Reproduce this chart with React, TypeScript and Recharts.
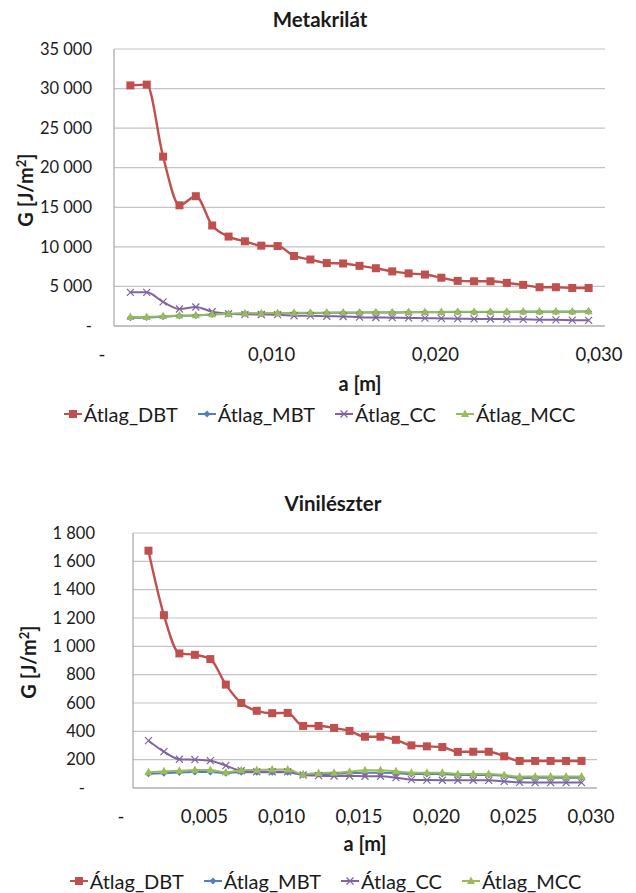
import React from "react";
import { LineChart, Line, XAxis, YAxis, CartesianGrid, Legend } from "recharts";

// a [m] positions of the measurements
const aValues = [
  0.001, 0.002, 0.003, 0.004, 0.005, 0.006, 0.007, 0.008, 0.009, 0.01,
  0.011, 0.012, 0.013, 0.014, 0.015, 0.016, 0.017, 0.018, 0.019, 0.02,
  0.021, 0.022, 0.023, 0.024, 0.025, 0.026, 0.027, 0.028, 0.029,
];

// Metakrilát, G [J/m2]
const metaDBT = [
  30400, 30500, 21400, 15250, 16400, 12700, 11300, 10700, 10150, 10100,
  8850, 8400, 7950, 7900, 7600, 7300, 6900, 6650, 6500, 6100,
  5700, 5650, 5650, 5450, 5200, 4900, 4900, 4800, 4800,
];
const metaMBT = [
  1050, 1080, 1180, 1280, 1320, 1450, 1520, 1570, 1590, 1610,
  1630, 1650, 1660, 1670, 1690, 1700, 1710, 1730, 1740, 1750,
  1760, 1770, 1770, 1780, 1790, 1800, 1800, 1810, 1830,
];
const metaCC = [
  4250, 4250, 3050, 2150, 2400, 1800, 1550, 1470, 1450, 1430,
  1300, 1280, 1230, 1200, 1120, 1080, 1050, 1020, 990, 960,
  930, 900, 880, 860, 840, 800, 780, 740, 720,
];
const metaMCC = [
  1150, 1150, 1250, 1330, 1350, 1480, 1560, 1600, 1620, 1640,
  1660, 1680, 1690, 1700, 1720, 1730, 1740, 1760, 1770, 1780,
  1790, 1800, 1800, 1810, 1820, 1830, 1830, 1840, 1850,
];

// Vinilészter, G [J/m2]
const vinDBT = [
  1675, 1220, 950, 940, 910, 730, 600, 545, 528, 530,
  438, 438, 424, 403, 362, 362, 340, 301, 294, 289,
  255, 256, 256, 224, 191, 191, 191, 191, 191,
];
const vinMBT = [
  100, 105, 110, 113, 113, 105, 112, 112, 112, 111,
  94, 98, 100, 105, 108, 108, 105, 98, 98, 98,
  92, 92, 92, 85, 70, 72, 72, 72, 72,
];
const vinCC = [
  334, 257, 203, 200, 193, 158, 122, 115, 115, 115,
  92, 87, 85, 85, 83, 83, 73, 59, 56, 55,
  55, 55, 54, 47, 40, 38, 38, 38, 38,
];
const vinMCC = [
  111, 118, 122, 127, 127, 111, 125, 127, 130, 130,
  97, 106, 108, 115, 125, 125, 118, 108, 108, 108,
  99, 99, 99, 92, 80, 82, 82, 82, 82,
];

const metaYTicks = [0, 5000, 10000, 15000, 20000, 25000, 30000, 35000];
const metaXTicks = [0, 0.01, 0.02, 0.03];
const vinYTicks = [0, 200, 400, 600, 800, 1000, 1200, 1400, 1600, 1800];
const vinXTicks = [0, 0.005, 0.01, 0.015, 0.02, 0.025, 0.03];

const seriesNames = ["Átlag_DBT", "Átlag_MBT", "Átlag_CC", "Átlag_MCC"];

const FONT = "Lato, 'Open Sans', sans-serif";

const series = [
  { key: "dbt", name: seriesNames[0], color: "#c0504d", marker: "square" },
  { key: "mbt", name: seriesNames[1], color: "#4f81bd", marker: "diamond" },
  { key: "cc", name: seriesNames[2], color: "#8064a2", marker: "cross" },
  { key: "mcc", name: seriesNames[3], color: "#9bbb59", marker: "triangle" },
];
const markerOf: Record<string, string> = Object.fromEntries(
  series.map((s) => [s.key, s.marker])
);
const orderOf: Record<string, number> = Object.fromEntries(
  series.map((s, i) => [s.key, i])
);

function buildRows(dbt: number[], mbt: number[], cc: number[], mcc: number[]) {
  return aValues.map((a, i) => ({ a, dbt: dbt[i], mbt: mbt[i], cc: cc[i], mcc: mcc[i] }));
}

const fmtY = (v: number) =>
  v === 0 ? "-" : String(v).replace(/\B(?=(\d{3})+(?!\d))/g, " ");
const fmtX = (v: number) => (v === 0 ? "-" : v.toFixed(3).replace(".", ","));

function Marker({ kind, cx, cy, color }: any) {
  if (cx == null || cy == null) return null;
  if (kind === "square")
    return <rect x={cx - 4} y={cy - 4} width={8} height={8} fill={color} />;
  if (kind === "diamond")
    return (
      <polygon
        points={`${cx},${cy - 3.5} ${cx + 3.5},${cy} ${cx},${cy + 3.5} ${cx - 3.5},${cy}`}
        fill={color}
      />
    );
  if (kind === "triangle")
    return (
      <polygon
        points={`${cx},${cy - 4.5} ${cx + 4},${cy + 3} ${cx - 4},${cy + 3}`}
        fill={color}
      />
    );
  return (
    <g stroke={color} strokeWidth={1.2}>
      <line x1={cx - 3.5} y1={cy - 3.5} x2={cx + 3.5} y2={cy + 3.5} />
      <line x1={cx - 3.5} y1={cy + 3.5} x2={cx + 3.5} y2={cy - 3.5} />
    </g>
  );
}

function LegendBox({ payload, shift }: any) {
  const items = [...(payload || [])].sort(
    (p: any, q: any) => orderOf[p.dataKey] - orderOf[q.dataKey]
  );
  return (
    <div
      style={{
        display: "flex",
        justifyContent: "center",
        alignItems: "center",
        height: 30,
        lineHeight: "30px",
        paddingLeft: shift * 2,
        fontFamily: FONT,
        fontSize: 20,
        color: "#1a1a1a",
        gap: 20,
      }}
    >
      {items.map((entry: any) => (
        <span key={entry.value} style={{ display: "flex", alignItems: "center" }}>
          <svg width={18} height={12} style={{ marginRight: 2 }}>
            <line x1={0} y1={6} x2={18} y2={6} stroke={entry.color} strokeWidth={2} />
            <Marker kind={markerOf[entry.dataKey]} cx={9} cy={6} color={entry.color} />
          </svg>
          {entry.value}
        </span>
      ))}
    </div>
  );
}

function Panel({
  title,
  rows,
  yTicks,
  xTicks,
  top,
  height,
  marginTop,
  marginRight,
  yAxisWidth,
  yLabelGap,
  zeroYDx,
  xAxisHeight,
  legendShift,
  titlePos,
  yTitlePos,
  xTitlePos,
}: any) {
  const XTick = ({ x, y, payload }: any) => (
    <text
      x={x + (payload.value === 0 ? -12 : -6)}
      y={y + 29}
      dy="0.35em"
      textAnchor="middle"
      fontFamily={FONT}
      fontSize={18.5}
      fill="#1a1a1a"
    >
      {fmtX(payload.value)}
    </text>
  );
  const YTick = ({ x, y, payload }: any) => (
    <text
      x={x - yLabelGap + (payload.value === 0 ? zeroYDx : 0)}
      y={y}
      dy="0.35em"
      textAnchor="end"
      fontFamily={FONT}
      fontSize={16.5}
      fill="#1a1a1a"
    >
      {fmtY(payload.value)}
    </text>
  );
  const bold = { fontFamily: FONT, fontWeight: 700, color: "#1a1a1a", whiteSpace: "nowrap" as const };
  return (
    <div style={{ position: "absolute", left: 0, top, width: 636, height }}>
      <div
        style={{
          ...bold,
          position: "absolute",
          left: titlePos[0],
          top: titlePos[1],
          transform: "translate(-50%, -50%)",
          fontSize: 20.5,
        }}
      >
        {title}
      </div>
      <div
        style={{
          ...bold,
          position: "absolute",
          left: yTitlePos[0],
          top: yTitlePos[1],
          transform: "translate(-50%, -50%) rotate(-90deg)",
          fontSize: 20,
        }}
      >
        G [J/m<sup style={{ fontSize: 13 }}>2</sup>]
      </div>
      <div
        style={{
          ...bold,
          position: "absolute",
          left: xTitlePos[0],
          top: xTitlePos[1],
          transform: "translate(-50%, -50%)",
          fontSize: 20,
        }}
      >
        a [m]
      </div>
      <LineChart
        width={636}
        height={height}
        data={rows}
        margin={{ top: marginTop, right: marginRight, left: 0, bottom: 0 }}
      >
        <CartesianGrid vertical={false} stroke="#c4c4c4" strokeWidth={1.2} />
        <XAxis
          dataKey="a"
          type="number"
          domain={[0, 0.03]}
          ticks={xTicks}
          height={xAxisHeight}
          tickLine={false}
          tickSize={0}
          tickMargin={0}
          axisLine={{ stroke: "#a6a6a6", strokeWidth: 1.2 }}
          tick={<XTick />}
          interval={0}
        />
        <YAxis
          type="number"
          domain={[0, yTicks[yTicks.length - 1]]}
          ticks={yTicks}
          width={yAxisWidth}
          tickLine={false}
          tickSize={0}
          tickMargin={0}
          axisLine={{ stroke: "#a6a6a6", strokeWidth: 1.2 }}
          tick={<YTick />}
          interval={0}
        />
        <Legend verticalAlign="bottom" height={30} content={<LegendBox shift={legendShift} />} />
        {series.map((s) => (
          <Line
            key={s.key}
            dataKey={s.key}
            name={s.name}
            type="monotone"
            stroke={s.color}
            strokeWidth={s.key === "dbt" ? 2.4 : 2}
            dot={(p: any) => (
              <Marker key={`${s.key}-${p.index}`} kind={s.marker} cx={p.cx} cy={p.cy} color={s.color} />
            )}
            activeDot={false}
            isAnimationActive={false}
          />
        ))}
      </LineChart>
    </div>
  );
}

export default function App() {
  return (
    <div
      style={{
        position: "absolute",
        left: 0,
        top: 0,
        width: 636,
        height: 893,
        overflow: "hidden",
        background: "#fff",
      }}
    >
      <Panel
        title="Metakrilát"
        rows={buildRows(metaDBT, metaMBT, metaCC, metaMCC)}
        yTicks={metaYTicks}
        xTicks={metaXTicks}
        top={0}
        height={429}
        marginTop={49}
        marginRight={31}
        yAxisWidth={114}
        yLabelGap={22}
        zeroYDx={0}
        xAxisHeight={73}
        legendShift={17}
        titlePos={[320, 19]}
        yTitlePos={[25, 190]}
        xTitlePos={[360, 383]}
      />
      <Panel
        title="Vinilészter"
        rows={buildRows(vinDBT, vinMBT, vinCC, vinMCC)}
        yTicks={vinYTicks}
        xTicks={vinXTicks}
        top={450}
        height={446}
        marginTop={83}
        marginRight={39}
        yAxisWidth={133}
        yLabelGap={38}
        zeroYDx={-10}
        xAxisHeight={78}
        legendShift={27}
        titlePos={[333, 53]}
        yTitlePos={[28, 212]}
        xTitlePos={[365, 393]}
      />
    </div>
  );
}
